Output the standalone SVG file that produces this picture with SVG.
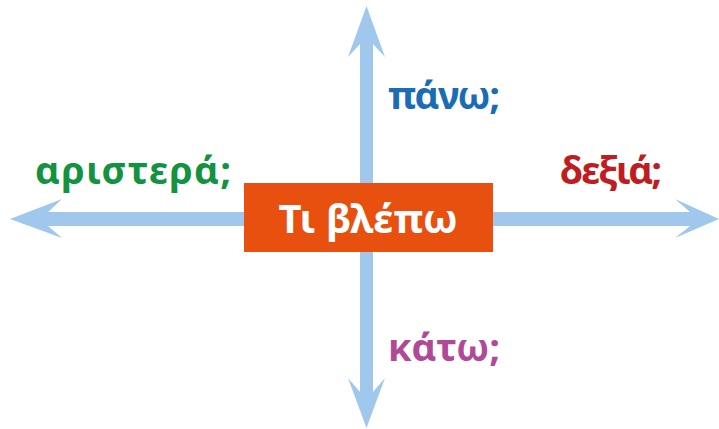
<svg xmlns="http://www.w3.org/2000/svg" width="719" height="429" viewBox="0 0 719 429">
<style>
.arrow{fill:#9FC8EC}
.lbl{font-family:"Noto Sans","DejaVu Sans",sans-serif;font-size:38px;font-weight:bold}
.title{font-family:"Noto Sans","DejaVu Sans",sans-serif;font-size:40px;font-weight:bold;fill:#FFFFFF}
</style>
<g id="connectors">
<rect class="arrow" x="360" y="40" width="13" height="356"/>
<rect class="arrow" x="44" y="212" width="650" height="14"/>
<polygon class="arrow" points="366.5,6 385,57 373,44 360,44 348,57"/>
<polygon class="arrow" points="366.5,428 385,378 373,392 360,392 348,378"/>
<polygon class="arrow" points="10,219 62,199 48,212 48,226 62,238"/>
<polygon class="arrow" points="719,219 675,199 690,212 690,226 675,238"/>
</g>
<g id="center">
<rect x="244" y="183" width="249" height="69" fill="#E8500F"/>
<text class="title" x="368" y="233" text-anchor="middle">Τι βλέπω</text>
</g>
<g id="up"><text class="lbl" x="388" y="109" fill="#1A6DB5" textLength="112">πάνω;</text></g>
<g id="left"><text class="lbl" x="35" y="184" fill="#13923F" textLength="196">αριστερά;</text></g>
<g id="right"><text class="lbl" x="560" y="184" fill="#BE1E22" textLength="102">δεξιά;</text></g>
<g id="down"><text class="lbl" x="388" y="361" fill="#B04A96" textLength="112">κάτω;</text></g>
</svg>
